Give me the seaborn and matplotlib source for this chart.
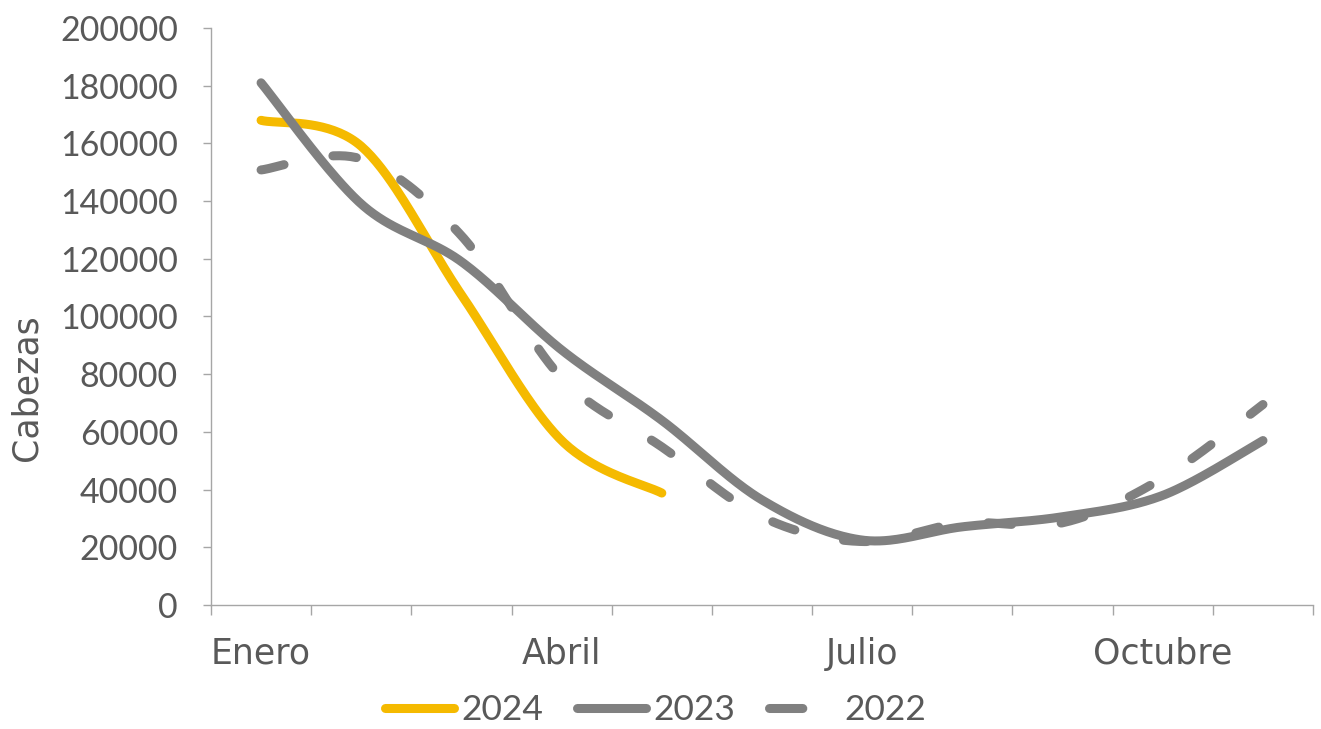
import numpy as np
import pandas as pd
import matplotlib
matplotlib.use("Agg")
import matplotlib.pyplot as plt
from matplotlib.lines import Line2D
from matplotlib.ticker import FixedLocator, NullFormatter
import seaborn as sns

# ---- data ----
months = ["Enero", "Febrero", "Marzo", "Abril", "Mayo", "Junio", "Julio",
          "Agosto", "Septiembre", "Octubre", "Noviembre"]
shown_labels = {0: "Enero", 3: "Abril", 6: "Julio", 9: "Octubre"}
v2024 = [168000, 159000, 107500, 57000, 38800]
v2023 = [181000, 139000, 119000, 88400, 64000, 36400, 22500, 27100, 30600, 38000, 57000]
v2022 = [150800, 154600, 128000, 78700, 54800, 30500, 22000, 28400, 28500, 44000, 69500]
series_names = ["2024", "2023", "2022"]
yticks = [0, 20000, 40000, 60000, 80000, 100000, 120000, 140000, 160000, 180000, 200000]

TXT = "#595959"
AX = "#A6A6A6"
YEL = "#F5BA00"
GRY = "#808080"
NUM_FONT = ["Lato", "DejaVu Sans"]
WORD_FONT = ["DejaVu Sans"]


def smooth(vals, n=40):
    """Excel-like smoothed line: Catmull-Rom converted to cubic Bezier."""
    p = np.array([[i, v] for i, v in enumerate(vals)], dtype=float)
    out = []
    m = len(p)
    for i in range(m - 1):
        p0 = p[i - 1] if i > 0 else p[i]
        p1 = p[i]
        p2 = p[i + 1]
        p3 = p[i + 2] if i + 2 < m else p[i + 1]
        c1 = p1 + (p2 - p0) / 6.0
        c2 = p2 - (p3 - p1) / 6.0
        t = np.linspace(0, 1, n, endpoint=(i == m - 2))[:, None]
        b = ((1 - t) ** 3) * p1 + 3 * ((1 - t) ** 2) * t * c1 + 3 * (1 - t) * t ** 2 * c2 + t ** 3 * p2
        out.append(b)
    return np.vstack(out)


frames = []
for name, vals in zip(series_names, [v2024, v2023, v2022]):
    s = smooth(vals)
    frames.append(pd.DataFrame({"x": s[:, 0], "y": s[:, 1], "serie": name}))
df = pd.concat(frames, ignore_index=True)

sns.set_style("white")
plt.rcParams["font.family"] = NUM_FONT
plt.rcParams["lines.scale_dashes"] = False

fig = plt.figure(figsize=(13.21, 7.29), dpi=100)
ax = fig.add_axes([0.1597, 0.1701, 0.9940 - 0.1597, 0.9616 - 0.1701])

LW = 6.5
DASH = (17, 35.8)
palette = {"2024": YEL, "2023": GRY, "2022": GRY}
dashes = {"2024": "", "2023": "", "2022": DASH}
sns.lineplot(data=df, x="x", y="y", hue="serie", style="serie", palette=palette,
             dashes=dashes, hue_order=series_names, style_order=series_names,
             sort=False, estimator=None, linewidth=LW, ax=ax, legend=False)
for ln in ax.get_lines():
    ln.set_solid_capstyle("round")
    ln.set_dash_capstyle("round")
    ln.set_solid_joinstyle("round")

ax.set_xlim(-0.5, 10.5)
ax.set_ylim(0, 200000)

# y axis
ax.set_yticks(yticks)
ax.set_yticklabels([str(v) for v in yticks], fontfamily=NUM_FONT)
ax.tick_params(axis="y", which="major", direction="out", length=5.8, width=1.0,
               color=AX, labelcolor=TXT, labelsize=24.5, pad=18, left=True)

# x axis: labels at category centers, tick marks at boundaries
ax.set_xticks(list(shown_labels.keys()))
ax.set_xticklabels(list(shown_labels.values()), fontfamily=WORD_FONT)
ax.xaxis.set_minor_locator(FixedLocator(np.arange(-0.5, 10.6, 1.0)))
ax.xaxis.set_minor_formatter(NullFormatter())
ax.tick_params(axis="x", which="major", length=0, labelcolor=TXT, labelsize=25, pad=23, bottom=True)
ax.tick_params(axis="x", which="minor", direction="out", length=7.2, width=1.0, color=AX, bottom=True)

for side in ["top", "right"]:
    ax.spines[side].set_visible(False)
for side in ["left", "bottom"]:
    ax.spines[side].set_color(AX)
    ax.spines[side].set_linewidth(1.0)

ax.set_xlabel("")
ax.set_ylabel("Cabezas", color=TXT, fontsize=25, fontfamily=WORD_FONT)
ax.yaxis.set_label_coords(-0.152, 0.376)

handles = [
    Line2D([0], [0], color=YEL, lw=LW, solid_capstyle="round"),
    Line2D([0], [0], color=GRY, lw=LW, solid_capstyle="round"),
    Line2D([0], [0], color=GRY, lw=LW, dashes=(24, 40), dash_capstyle="round"),
]
leg = fig.legend(handles, series_names, loc="center", bbox_to_anchor=(656 / 1321, 1 - 710 / 729),
                 ncol=3, frameon=False, fontsize=25.5, handlelength=1.95, handletextpad=0.2,
                 columnspacing=0.95, labelcolor=TXT, prop={"family": NUM_FONT, "size": 25.5})

fig.savefig("out.png", dpi=100)
